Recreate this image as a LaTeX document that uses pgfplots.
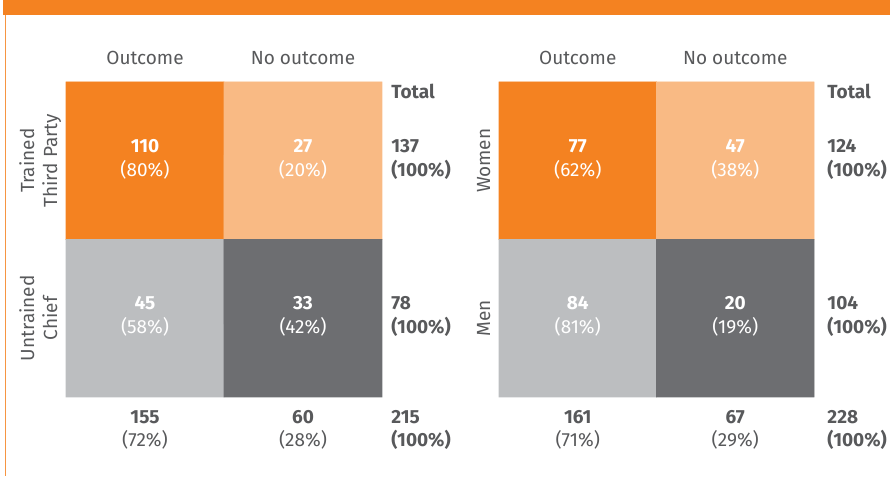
\documentclass[border=0pt]{standalone}
\usepackage{pgfplots}
\pgfplotsset{compat=1.18}
\usepackage{fontspec}
\setmainfont{Fira Sans}
\definecolor{cOr}{HTML}{F48221}
\definecolor{cLo}{HTML}{F9BA84}
\definecolor{cLg}{HTML}{BCBEC0}
\definecolor{cDg}{HTML}{6D6E71}
\definecolor{txt}{HTML}{58595B}
\newcommand{\lblfont}{\fontsize{9.5}{11.5}\selectfont}
\pgfplotsset{
  heat/.style={
    scale only axis, width=158pt, height=157.5pt,
    xmin=0, xmax=2, ymin=0, ymax=2, clip=false,
    axis line style={draw=none}, major tick length=0pt,
    xtick={0.5,1.5}, ytick={0.5,1.5},
    xticklabel pos=upper,
    tick label style={font=\lblfont, text=txt, inner sep=0pt, text depth=0pt},
    xticklabel style={anchor=south},
    yticklabel style={rotate=90, anchor=south, align=center},
    xticklabel shift=8.75pt, yticklabel shift=4.25pt,
    colormap={cells}{color=(cOr) color=(cLo) color=(cLg) color=(cDg)},
    colormap access=direct,
  },
  lab/.style={draw=none, mark=none, point meta=explicit symbolic,
    nodes near coords align=center,
    every node near coord/.append style={anchor=base, inner sep=0pt, font=\lblfont, text=#1}},
  labw/.style={draw=none, mark=none, point meta=explicit symbolic,
    nodes near coords align=center,
    every node near coord/.append style={anchor=base west, inner sep=0pt, font=\lblfont, text=txt}},
}
\begin{document}
\begin{tikzpicture}[x=1pt,y=1pt]
\path[use as bounding box] (0,0) rectangle (445,238.5);
\fill[cOr] (1.5,231.2) rectangle (445,238.5);
\draw[cOr!85, line width=0.6pt] (2.6,0.5) -- (2.6,231.2);

% ---------- left matrix ----------
\begin{axis}[heat, at={(33pt,40pt)}, anchor=south west,
  xticklabels={Outcome, No outcome},
  yticklabels={{Untrained\\Chief}, {Trained\\Third Party}}]
\addplot[matrix plot*, mesh/cols=2, point meta=explicit] table[meta=c] {
x y c
0.5 1.5 0
1.5 1.5 1
0.5 0.5 2
1.5 0.5 3
};
% cell counts
\addplot[lab=white, nodes near coords={\textbf{\pgfplotspointmeta}}] table[meta=v] {
x y v
0.5 1.555 110
1.5 1.555 27
0.5 0.555 45
1.5 0.555 33
};
% cell shares
\addplot[lab=white, nodes near coords={(\pgfplotspointmeta\%)}] table[meta=v] {
x y v
0.5 1.40 80
1.5 1.40 20
0.5 0.40 58
1.5 0.40 42
};
% column totals
\addplot[lab=txt, nodes near coords={\textbf{\pgfplotspointmeta}}] table[meta=v] {
x y v
0.5 -0.168 155
1.5 -0.168 60
};
\addplot[lab=txt, nodes near coords={(\pgfplotspointmeta\%)}] table[meta=v] {
x y v
0.5 -0.317 72
1.5 -0.317 28
};
% row totals
\addplot[labw, nodes near coords={\textbf{\pgfplotspointmeta}}] table[meta=v] {
x y v
2.057 1.895 Total
2.057 1.555 137
2.057 0.555 78
2.057 -0.168 215
};
\addplot[labw, nodes near coords={\textbf{(\pgfplotspointmeta\%)}}] table[meta=v] {
x y v
2.057 1.40 100
2.057 0.40 100
2.057 -0.317 100
};
\end{axis}

% ---------- right matrix ----------
\begin{axis}[heat, at={(249.5pt,40pt)}, anchor=south west, width=157.5pt,
  xticklabels={Outcome, No outcome},
  yticklabels={Men, Women}]
\addplot[matrix plot*, mesh/cols=2, point meta=explicit] table[meta=c] {
x y c
0.5 1.5 0
1.5 1.5 1
0.5 0.5 2
1.5 0.5 3
};
\addplot[lab=white, nodes near coords={\textbf{\pgfplotspointmeta}}] table[meta=v] {
x y v
0.5 1.555 77
1.5 1.555 47
0.5 0.555 84
1.5 0.555 20
};
\addplot[lab=white, nodes near coords={(\pgfplotspointmeta\%)}] table[meta=v] {
x y v
0.5 1.40 62
1.5 1.40 38
0.5 0.40 81
1.5 0.40 19
};
\addplot[lab=txt, nodes near coords={\textbf{\pgfplotspointmeta}}] table[meta=v] {
x y v
0.5 -0.168 161
1.5 -0.168 67
};
\addplot[lab=txt, nodes near coords={(\pgfplotspointmeta\%)}] table[meta=v] {
x y v
0.5 -0.317 71
1.5 -0.317 29
};
\addplot[labw, nodes near coords={\textbf{\pgfplotspointmeta}}] table[meta=v] {
x y v
2.083 1.895 Total
2.083 1.555 124
2.083 0.555 104
2.083 -0.168 228
};
\addplot[labw, nodes near coords={\textbf{(\pgfplotspointmeta\%)}}] table[meta=v] {
x y v
2.083 1.40 100
2.083 0.40 100
2.083 -0.317 100
};
\end{axis}
\end{tikzpicture}
\end{document}
